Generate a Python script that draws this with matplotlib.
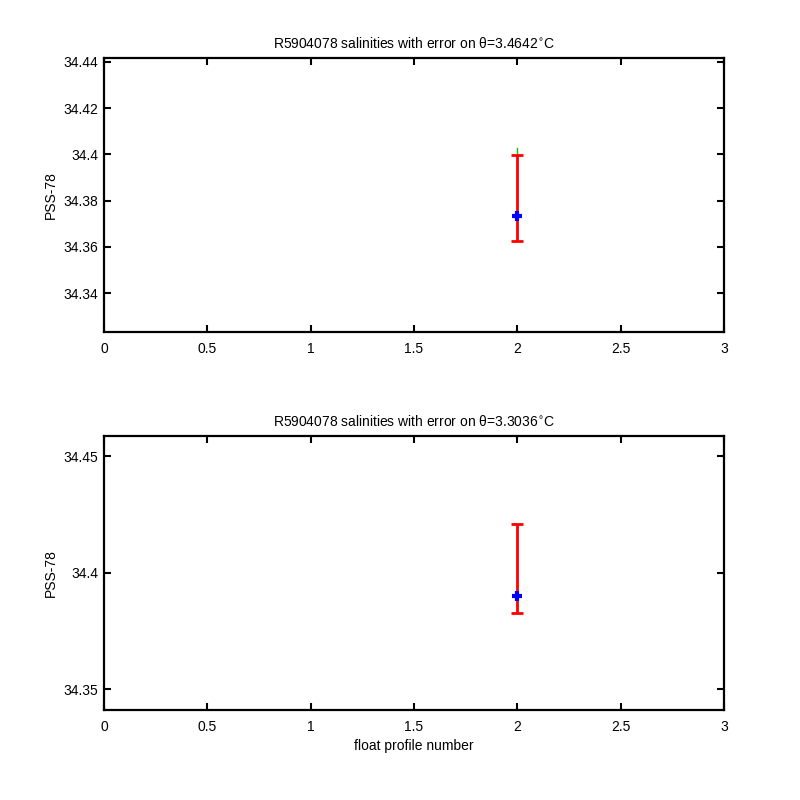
import matplotlib
matplotlib.use("Agg")
import matplotlib.pyplot as plt

plt.rcParams['font.family'] = ['Liberation Sans', 'DejaVu Sans']

# Data
profiles = [2]
theta_levels = ["3.4642", "3.3036"]
float_sal = [34.3735, 34.3901]
err_upper = [34.3999, 34.4210]
err_lower = [34.3627, 34.3825]
green_top = [34.4028, None]
green_bottom = [34.3999, None]
ylims = [(34.3232, 34.4417), (34.3410, 34.4586)]
yticks = [[34.34, 34.36, 34.38, 34.40, 34.42, 34.44], [34.35, 34.40, 34.45]]
yticklabels = [["34.34", "34.36", "34.38", "34.4", "34.42", "34.44"],
               ["34.35", "34.4", "34.45"]]
xticks = [0, 0.5, 1, 1.5, 2, 2.5, 3]
xticklabels = ["0", "0.5", "1", "1.5", "2", "2.5", "3"]

fig = plt.figure(figsize=(8, 8), dpi=100)
positions = [[0.13, 0.585, 0.775, 0.3425], [0.13, 0.1125, 0.775, 0.3425]]
fs = 10

for i in range(2):
    ax = fig.add_axes(positions[i])
    x = profiles[0]
    lo = float_sal[i] - err_lower[i]
    hi = err_upper[i] - float_sal[i]
    if green_top[i] is not None:
        ax.plot([x, x], [green_bottom[i], green_top[i]], color='#00cc00', lw=1, zorder=1)
    ax.errorbar([x], [float_sal[i]], yerr=[[lo], [hi]], fmt='none', ecolor='red',
                elinewidth=2, capsize=4, capthick=2, zorder=2)
    ax.plot([x], [float_sal[i]], marker='+', color='blue', ms=7, mew=3, ls='none', zorder=3)
    ax.set_xlim(0, 3)
    ax.set_ylim(*ylims[i])
    ax.set_xticks(xticks)
    ax.set_xticklabels(xticklabels)
    ax.set_yticks(yticks[i])
    ax.set_yticklabels(yticklabels[i])
    ax.tick_params(direction='in', length=5, width=1.5, top=True, right=True,
                   labelsize=fs)
    ax.tick_params(axis='x', pad=7)
    ax.tick_params(axis='y', pad=4)
    for s in ax.spines.values():
        s.set_linewidth(1.6)
    ax.set_ylabel('PSS-78', fontsize=fs, labelpad=4)
    ax.set_title('R5904078 salinities with error on \u03b8=' + theta_levels[i] + r'$^{\circ}$C',
                 fontsize=fs, pad=7)
    if i == 1:
        ax.set_xlabel('float profile number', fontsize=fs, labelpad=4)

fig.savefig('out.png', dpi=100, facecolor='white')
